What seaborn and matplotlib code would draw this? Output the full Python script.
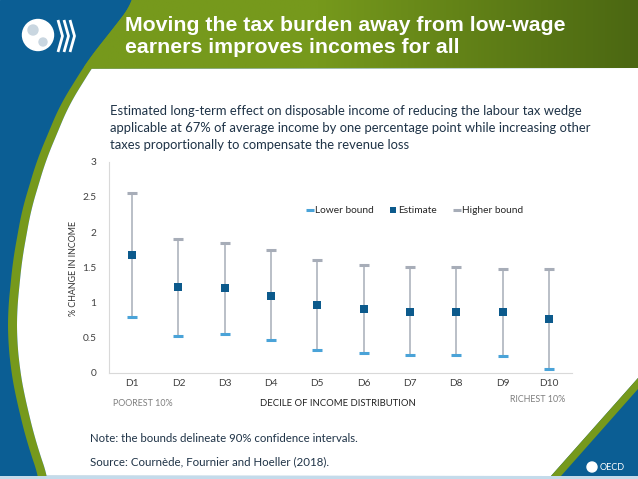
import numpy as np
import pandas as pd
import seaborn as sns
import matplotlib.pyplot as plt
from matplotlib.patches import Polygon, Rectangle, Circle

# data
deciles = ["D1", "D2", "D3", "D4", "D5", "D6", "D7", "D8", "D9", "D10"]
lower_bound = [0.80, 0.53, 0.55, 0.47, 0.33, 0.29, 0.26, 0.25, 0.24, 0.05]
estimate = [1.68, 1.22, 1.20, 1.10, 0.97, 0.91, 0.87, 0.87, 0.86, 0.77]
higher_bound = [2.56, 1.90, 1.85, 1.74, 1.60, 1.53, 1.50, 1.50, 1.48, 1.48]
y_ticks = [0, 0.5, 1, 1.5, 2, 2.5, 3]
y_tick_labels = ["0", "0.5", "1", "1.5", "2", "2.5", "3"]

df = pd.DataFrame({
    "Decile": deciles,
    "Lower bound": lower_bound,
    "Estimate": estimate,
    "Higher bound": higher_bound,
})

BLUE = "#0b5e94"
GREEN = "#76991c"
GREEN_DARK = "#4b6712"
LOW_C = "#4aa3d8"
EST_C = "#0c5a8c"
HIGH_C = "#a7adb8"
TEXT_C = "#1f3347"

sns.set_theme(style="white")
plt.rcParams["font.family"] = ["Lato", "DejaVu Sans"]

W, H = 638, 479
fig = plt.figure(figsize=(6.38, 4.79), dpi=100)

# slide background
bg = fig.add_axes([0, 0, 1, 1], zorder=0)
bg.set_xlim(0, W)
bg.set_ylim(H, 0)
bg.axis("off")
bg.add_patch(Rectangle((0, 0), W, H, color=BLUE, zorder=0))

knot_y = [0, 30, 60, 105, 160, 210, 260, 310, 340, 370, 393, 435, 473, 479]
knot_x = [135, 112, 88, 60, 37, 22, 13, 8, 8, 11, 15, 25, 37, 40]
ys = np.linspace(0, H, 300)
xs = np.interp(ys, knot_y, knot_x)
xs = np.convolve(np.pad(xs, 10, mode="edge"), np.ones(21) / 21, mode="valid")
strip = 9

outer = list(zip(xs, ys))
inner = [(x + strip, y) for x, y in zip(xs, ys) if y >= 68][::-1]
bg.add_patch(Polygon(outer + inner + [(W, 68), (W, 0)], closed=True,
                     color=GREEN, lw=0, zorder=1))

head = [(x, y) for x, y in zip(xs, ys) if y <= 68] + [(W, 68), (W, 0)]
head_patch = Polygon(head, closed=True, facecolor="none", lw=0)
bg.add_patch(head_patch)
grad = np.linspace(0, 1, 256).reshape(1, -1)
cmap = plt.matplotlib.colors.LinearSegmentedColormap.from_list("g", [GREEN, GREEN, GREEN_DARK])
im = bg.imshow(grad, extent=[0, W, 68, 0], aspect="auto", cmap=cmap, zorder=2)
im.set_clip_path(head_patch)
bg.set_xlim(0, W)
bg.set_ylim(H, 0)

white = [(x + strip, y) for x, y in zip(xs, ys) if 68 <= y <= 476]
white += [(551, 476), (W, 378), (W, 68)]
bg.add_patch(Polygon(white, closed=True, color="white", lw=0, zorder=3))
bg.add_patch(Polygon([(551, 476), (W, 378), (W, 389), (561, 476)], closed=True,
                     color=GREEN, lw=0, zorder=3))
bg.add_patch(Rectangle((0, 476), W, 3, color="#c4dbeb", lw=0, zorder=4))

# OECD marks
bg.add_patch(Circle((38, 35), 15.5, color="white", zorder=5))
bg.add_patch(Circle((33, 30), 5, color="#c9d6e0", zorder=6))
bg.add_patch(Circle((43, 42), 4, color="#c9d6e0", zorder=6))
for dx in (58, 64, 70):
    bg.plot([dx, dx + 4.5, dx], [20, 36, 52], color="white", lw=2.0, zorder=5,
            solid_capstyle="butt")
bg.add_patch(Circle((592, 467), 5, color="white", zorder=5))
bg.text(600, 467, "OECD", color="white", fontsize=6.5, va="center", ha="left", zorder=5)

# titles and notes
title_font = ["Liberation Sans", "DejaVu Sans"]
bg.text(125, 25, "Moving the tax burden away from low-wage", color="white",
        fontsize=15.3, fontweight="bold", family=title_font, va="center", zorder=6)
bg.text(125, 47, "earners improves incomes for all", color="white",
        fontsize=15.3, fontweight="bold", family=title_font, va="center", zorder=6)

subtitle = [
    "Estimated long-term effect on disposable income of reducing the labour tax wedge",
    "applicable at 67% of average income by one percentage point while increasing other",
    "taxes proportionally to compensate the revenue loss",
]
for i, line in enumerate(subtitle):
    bg.text(110, 111 + 17 * i, line, color=TEXT_C, fontsize=9.4, va="center", zorder=6)

bg.text(73, 268, "% CHANGE IN INCOME", rotation=90, color="#333333", fontsize=6.4,
        ha="center", va="center", zorder=6)
bg.text(113, 404, "POOREST 10%", color="#7f7f7f", fontsize=6.4, va="center", zorder=6)
bg.text(338, 404, "DECILE OF INCOME DISTRIBUTION", color="#222222", fontsize=6.8,
        ha="center", va="center", zorder=6)
bg.text(538, 400, "RICHEST 10%", color="#7f7f7f", fontsize=6.4, ha="center",
        va="center", zorder=6)
bg.text(90, 439, "Note: the bounds delineate 90% confidence intervals.", color=TEXT_C,
        fontsize=8.2, va="center", zorder=6)
bg.text(90, 462, "Source: Cournède, Fournier and Hoeller (2018).", color=TEXT_C,
        fontsize=8.3, va="center", zorder=6)

# chart
ax = fig.add_axes([109 / W, 1 - 373 / H, (572 - 109) / W, (373 - 161.7) / H], zorder=2)
ax.set_facecolor("none")

sns.scatterplot(data=df, x="Decile", y="Lower bound", marker="_", s=55, color=LOW_C,
                linewidth=2.2, label="Lower bound", ax=ax, zorder=3)
sns.scatterplot(data=df, x="Decile", y="Estimate", marker="s", s=32, color=EST_C,
                edgecolor=EST_C, linewidth=0, label="Estimate", ax=ax, zorder=4)
sns.scatterplot(data=df, x="Decile", y="Higher bound", marker="_", s=55, color=HIGH_C,
                linewidth=2.2, label="Higher bound", ax=ax, zorder=3)
ax.vlines(df["Decile"], df["Lower bound"], df["Higher bound"], color=HIGH_C,
          linewidth=1.1, zorder=2)

ax.set_xlim(-0.5, 9.5)
ax.set_ylim(0, 3)
ax.set_yticks(y_ticks)
ax.set_yticklabels(y_tick_labels)
ax.set_xlabel("")
ax.set_ylabel("")
ax.tick_params(axis="both", length=0, labelsize=7.3, colors="#404040")
ax.tick_params(axis="y", pad=9)
ax.tick_params(axis="x", pad=4)
for side in ("top", "right"):
    ax.spines[side].set_visible(False)
for side in ("left", "bottom"):
    ax.spines[side].set_color("#d9d9d9")
    ax.spines[side].set_linewidth(0.8)

ax.legend(loc="center", bbox_to_anchor=(415 / W, 1 - 210 / H), bbox_transform=fig.transFigure,
          ncol=3, frameon=False, fontsize=7.3, handlelength=0.6, handletextpad=0.2,
          columnspacing=1.6, markerscale=0.75)

fig.savefig("out.png", dpi=100)
